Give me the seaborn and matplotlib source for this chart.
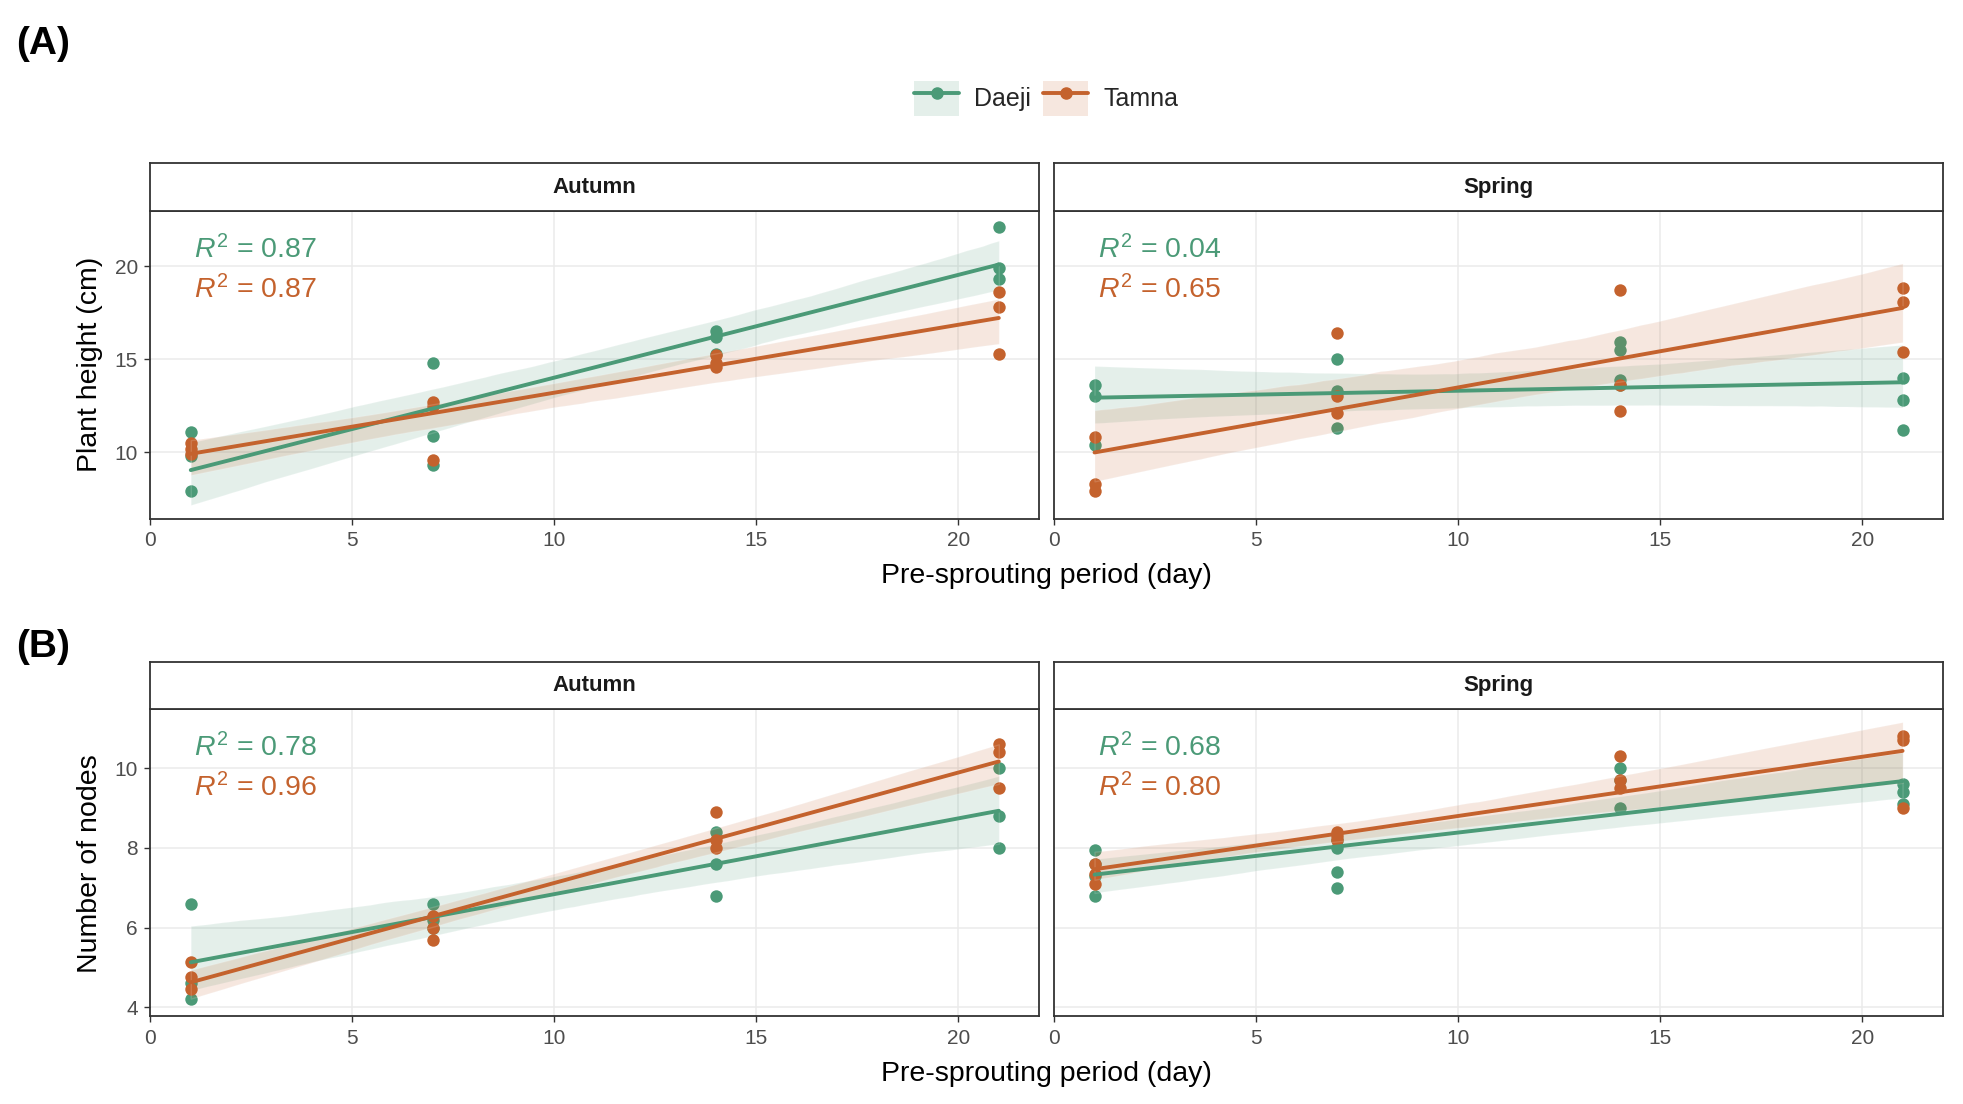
import matplotlib
matplotlib.use("Agg")
import matplotlib.pyplot as plt
from matplotlib.lines import Line2D
from matplotlib.patches import Patch
from matplotlib.legend_handler import HandlerTuple
import seaborn as sns
import pandas as pd

# Donnees (periode de pre-germination en jours)
days = [1, 7, 14, 21]
cultivars = ["Daeji", "Tamna"]
seasons = ["Autumn", "Spring"]

# Hauteur des plantes (cm), une liste par jour
height_autumn_daeji = [[11.1, 9.8, 7.9], [14.8, 10.9, 9.3], [16.5, 16.2, 15.3], [22.1, 19.9, 19.3]]
height_autumn_tamna = [[10.5, 10.2, 9.9], [12.7, 12.5, 9.6], [15.2, 14.8, 14.6], [18.6, 17.8, 15.3]]
height_spring_daeji = [[13.6, 13.0, 10.4], [15.0, 13.3, 11.3], [15.9, 15.5, 13.9, 13.6], [14.0, 12.8, 11.2]]
height_spring_tamna = [[10.8, 8.3, 7.9], [16.4, 13.0, 12.1], [18.7, 13.6, 12.2], [18.8, 18.1, 15.4]]

# Nombre de noeuds
nodes_autumn_daeji = [[6.6, 4.6, 4.2], [6.6, 6.2, 6.0], [8.4, 7.6, 6.8], [10.0, 8.8, 8.0]]
nodes_autumn_tamna = [[5.15, 4.75, 4.45], [6.3, 6.0, 5.7], [8.9, 8.2, 8.0], [10.6, 10.4, 9.5]]
nodes_spring_daeji = [[7.95, 7.6, 7.3, 6.8], [8.2, 8.0, 7.4, 7.0], [10.0, 9.7, 9.0], [9.6, 9.4, 9.1]]
nodes_spring_tamna = [[7.6, 7.35, 7.1], [8.4, 8.3, 8.2], [10.3, 9.7, 9.5], [10.8, 10.7, 9.0]]

# Coefficients R2 affiches
r2_height = {"Autumn": ["0.87", "0.87"], "Spring": ["0.04", "0.65"]}
r2_nodes = {"Autumn": ["0.78", "0.96"], "Spring": ["0.68", "0.80"]}

colors = {"Daeji": "#4b9a77", "Tamna": "#c4622d"}


def to_long(var, table):
    rows = []
    for (season, cultivar), vals in table.items():
        for d, reps in zip(days, vals):
            for v in reps:
                rows.append({"season": season, "cultivar": cultivar, "day": d, var: v})
    return pd.DataFrame(rows)


df_height = to_long("height", {
    ("Autumn", "Daeji"): height_autumn_daeji, ("Autumn", "Tamna"): height_autumn_tamna,
    ("Spring", "Daeji"): height_spring_daeji, ("Spring", "Tamna"): height_spring_tamna})
df_nodes = to_long("nodes", {
    ("Autumn", "Daeji"): nodes_autumn_daeji, ("Autumn", "Tamna"): nodes_autumn_tamna,
    ("Spring", "Daeji"): nodes_spring_daeji, ("Spring", "Tamna"): nodes_spring_tamna})

sns.set_theme(style="white")
plt.rcParams["font.family"] = ["Liberation Sans", "DejaVu Sans"]
plt.rcParams["mathtext.fontset"] = "custom"
plt.rcParams["mathtext.rm"] = "Liberation Sans"
plt.rcParams["mathtext.it"] = "Liberation Sans:italic"

fig = plt.figure(figsize=(19.63, 11.04), dpi=100)

lefts = [0.0766, 0.5370]
width = 0.4528
rows = [
    # (df, variable, bottom, height, strip top, ylim, yticks, ylabel, r2, xlab y, ylab y, tag, tag y)
    (df_height, "height", 0.530, 0.279, 0.852, (6.42, 22.97), [10, 15, 20],
     "Plant height (cm)", r2_height, 0.478, 0.670, "(A)", 0.960),
    (df_nodes, "nodes", 0.0796, 0.278, 0.400, (3.78, 11.48), [4, 6, 8, 10],
     "Number of nodes", r2_nodes, 0.027, 0.218, "(B)", 0.414),
]

for df, var, bottom, h, strip_top, ylim, yticks, ylabel, r2, xlab_y, ylab_y, tag, tag_y in rows:
    for i, season in enumerate(seasons):
        ax = fig.add_axes([lefts[i], bottom, width, h])
        sub = df[df["season"] == season]
        for cultivar in cultivars:
            d = sub[sub["cultivar"] == cultivar]
            sns.regplot(data=d, x="day", y=var, ax=ax, color=colors[cultivar],
                        ci=95, seed=1, truncate=True,
                        scatter_kws=dict(s=80, alpha=1, linewidths=0),
                        line_kws=dict(lw=2.8))
        ax.set_xlim(0, 22)
        ax.set_ylim(*ylim)
        ax.set_xticks([0, 5, 10, 15, 20])
        ax.set_yticks(yticks)
        ax.grid(True, color="#ebebeb", lw=1.1)
        ax.set_axisbelow(True)
        ax.set_xlabel("")
        ax.set_ylabel("")
        for sp in ax.spines.values():
            sp.set_color("#333333")
            sp.set_linewidth(1.3)
        ax.tick_params(axis="both", which="major", direction="out", length=4, width=1,
                       color="#333333", labelcolor="#4d4d4d", labelsize=15, pad=5,
                       bottom=True, left=(i == 0))
        if i == 1:
            ax.set_yticklabels([])
        # Textes R2
        ax.text(0.049, 0.873, r"$R^2$ = " + r2[season][0], transform=ax.transAxes,
                color=colors["Daeji"], fontsize=20.5, va="center", ha="left")
        ax.text(0.049, 0.743, r"$R^2$ = " + r2[season][1], transform=ax.transAxes,
                color=colors["Tamna"], fontsize=20.5, va="center", ha="left")

        # Bandeau de facette
        sax = fig.add_axes([lefts[i], bottom + h, width, strip_top - bottom - h])
        sax.set_xticks([])
        sax.set_yticks([])
        sax.set_facecolor("white")
        for sp in sax.spines.values():
            sp.set_color("#333333")
            sp.set_linewidth(1.3)
        sax.text(0.5, 0.5, season, ha="center", va="center", fontsize=16,
                 fontweight="bold", color="#1a1a1a", transform=sax.transAxes)

    fig.text(0.533, xlab_y, "Pre-sprouting period (day)", ha="center", va="center",
             fontsize=20.5, color="black")
    fig.text(0.046, ylab_y, ylabel, ha="center", va="center", rotation=90,
             fontsize=20.5, color="black")
    fig.text(0.008, tag_y, tag, ha="left", va="center", fontsize=28,
             fontweight="bold", color="black")

# Legende
handles = []
for cultivar in cultivars:
    handles.append((Patch(facecolor=colors[cultivar], alpha=0.15, edgecolor="none"),
                    Line2D([], [], color=colors[cultivar], lw=2.8, marker="o", markersize=8)))
fig.legend(handles, cultivars, loc="center", bbox_to_anchor=(0.533, 0.911), ncol=2,
           frameon=False, fontsize=18, handler_map={tuple: HandlerTuple(ndivide=1, pad=0)},
           handlelength=1.8, handleheight=1.8, handletextpad=0.6, columnspacing=0.5)

fig.savefig("out.png", dpi=100)
